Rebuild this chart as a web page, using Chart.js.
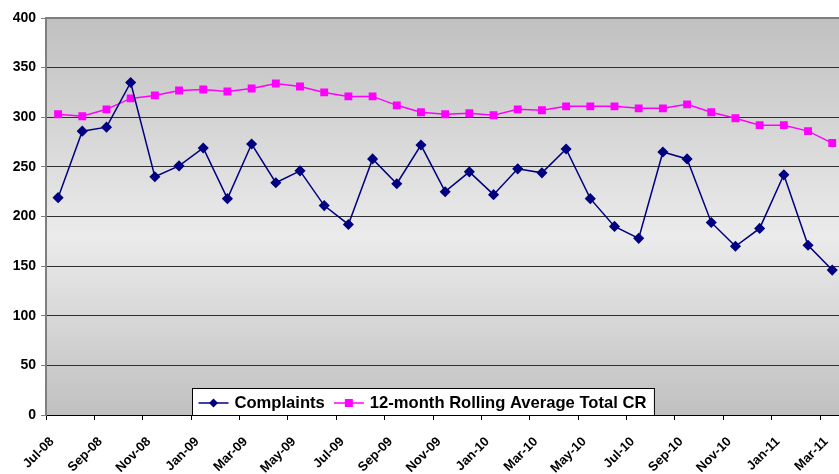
<!DOCTYPE html>
<html>
<head>
<meta charset="utf-8">
<script src="https://cdn.jsdelivr.net/npm/chart.js@4.4.1/dist/chart.umd.min.js"></script>
<style>
  html, body { margin: 0; padding: 0; background: #fff; }
  #wrap { width: 839px; height: 474px; position: relative; }
</style>
</head>
<body>
<div id="wrap"><canvas id="myChart"></canvas></div>
<script>
// months, one point each
const months = ['Jul-08', 'Aug-08', 'Sep-08', 'Oct-08', 'Nov-08', 'Dec-08',
    'Jan-09', 'Feb-09', 'Mar-09', 'Apr-09', 'May-09', 'Jun-09',
    'Jul-09', 'Aug-09', 'Sep-09', 'Oct-09', 'Nov-09', 'Dec-09',
    'Jan-10', 'Feb-10', 'Mar-10', 'Apr-10', 'May-10', 'Jun-10',
    'Jul-10', 'Aug-10', 'Sep-10', 'Oct-10', 'Nov-10', 'Dec-10',
    'Jan-11', 'Feb-11', 'Mar-11'];

const complaints = [219, 286, 290, 335, 240, 251, 269, 218, 273, 234, 246, 211,
    192, 258, 233, 272, 225, 245, 222, 248, 244, 268, 218, 190,
    178, 265, 258, 194, 170, 188, 242, 171, 146];

const rollingAvg = [303, 301, 308, 319, 322, 327, 328, 326, 329, 334, 331, 325,
    321, 321, 312, 305, 303, 304, 302, 308, 307, 311, 311, 311,
    309, 309, 313, 305, 299, 292, 292, 286, 274];

const seriesNames = ['Complaints', '12-month Rolling Average Total CR'];
const yMin = 0, yMax = 400, yStep = 50;

const FONT = "'Liberation Sans', Arial, sans-serif";

// points sit in the middle of each month slot
const toPoints = arr => arr.map((v, i) => ({ x: i + 0.5, y: v }));

// background gradient + top border + legend box inside the plot
const plotDecor = {
    id: 'plotDecor',
    beforeDraw(chart) {
        const { ctx, chartArea: a } = chart;
        const g = ctx.createLinearGradient(0, a.top, 0, a.bottom);
        g.addColorStop(0, '#c0c0c0');
        g.addColorStop(0.55, '#ebebeb');
        g.addColorStop(1, '#c0c0c0');
        ctx.save();
        ctx.fillStyle = g;
        ctx.fillRect(a.left, a.top, a.right - a.left, a.bottom - a.top);
        ctx.restore();
    },
    afterDraw(chart) {
        const { ctx, chartArea: a } = chart;
        ctx.save();
        // top border
        ctx.strokeStyle = '#7f7f7f';
        ctx.lineWidth = 2;
        ctx.beginPath();
        ctx.moveTo(a.left, a.top);
        ctx.lineTo(a.right, a.top);
        ctx.stroke();

        // legend
        ctx.font = 'bold 16.6px ' + FONT;
        const ds = chart.data.datasets;
        const sampleW = 30, gapAfterSample = 6, gapItems = 9, padL = 6, padR = 8;
        let total = padL + padR;
        ds.forEach((d, i) => {
            total += sampleW + gapAfterSample + ctx.measureText(d.label).width;
            if (i < ds.length - 1) total += gapItems;
        });
        const boxH = 27;
        const bx = 192.5;
        const by = a.bottom - boxH + 0.5;
        ctx.fillStyle = '#fff';
        ctx.fillRect(bx, by, total, boxH);
        ctx.strokeStyle = '#000';
        ctx.lineWidth = 1;
        ctx.strokeRect(bx, by, total, boxH);

        let x = bx + padL;
        const midY = by + boxH / 2 + 1;
        ds.forEach(d => {
            ctx.strokeStyle = d.borderColor;
            ctx.lineWidth = 1.5;
            ctx.beginPath();
            ctx.moveTo(x, midY);
            ctx.lineTo(x + sampleW, midY);
            ctx.stroke();
            ctx.fillStyle = d.pointBackgroundColor;
            const mx = x + sampleW / 2;
            ctx.beginPath();
            if (d.pointStyle === 'rectRot') {
                ctx.moveTo(mx, midY - 4.5);
                ctx.lineTo(mx + 4.5, midY);
                ctx.lineTo(mx, midY + 4.5);
                ctx.lineTo(mx - 4.5, midY);
                ctx.closePath();
            } else {
                ctx.rect(mx - 4, midY - 4, 8, 8);
            }
            ctx.fill();
            x += sampleW + gapAfterSample;
            ctx.fillStyle = '#000';
            ctx.textBaseline = 'middle';
            ctx.textAlign = 'left';
            ctx.fillText(d.label, x, midY);
            x += ctx.measureText(d.label).width + gapItems;
        });
        ctx.restore();
    }
};

const config = {
    type: 'line',
    data: {
        datasets: [
            {
                label: seriesNames[0],
                data: toPoints(complaints),
                borderColor: '#000080',
                backgroundColor: '#000080',
                pointBackgroundColor: '#000080',
                pointBorderColor: '#000080',
                pointStyle: 'rectRot',
                pointRadius: 4.5,
                borderWidth: 1.5,
                tension: 0
            },
            {
                label: seriesNames[1],
                data: toPoints(rollingAvg),
                borderColor: '#ff00ff',
                backgroundColor: '#ff00ff',
                pointBackgroundColor: '#ff00ff',
                pointBorderColor: '#ff00ff',
                pointStyle: 'rect',
                pointRadius: 4.5,
                borderWidth: 1.5,
                tension: 0
            }
        ]
    },
    options: {
        responsive: true,
        maintainAspectRatio: false,
        animation: false,
        layout: { autoPadding: false, padding: { top: 18, right: 0, left: 0, bottom: 0 } },
        plugins: {
            legend: { display: false },
            tooltip: { enabled: false }
        },
        scales: {
            x: {
                type: 'linear',
                min: 0,
                max: 32.78,
                afterFit(scale) {
                    scale.height = 59;
                    scale.paddingLeft = 0;
                    scale.paddingRight = 0;
                },
                ticks: {
                    stepSize: 2,
                    includeBounds: false,
                    autoSkip: false,
                    minRotation: 45,
                    maxRotation: 45,
                    padding: 14,
                    labelOffset: 6,
                    color: '#000',
                    font: { family: FONT, size: 13, weight: 'bold' },
                    callback: v => (Number.isInteger(v) && v % 2 === 0 && months[v]) ? months[v] : ''
                },
                grid: {
                    drawOnChartArea: false,
                    drawTicks: true,
                    tickLength: 5,
                    color: '#000'
                },
                border: { color: '#000', width: 1 }
            },
            y: {
                min: yMin,
                max: yMax,
                afterFit(scale) {
                    scale.width = 46;
                    scale.paddingTop = 0;
                    scale.paddingBottom = 0;
                },
                ticks: {
                    stepSize: yStep,
                    padding: 5,
                    color: '#000',
                    font: { family: FONT, size: 14, weight: 'bold' }
                },
                grid: {
                    color: '#303030',
                    lineWidth: 1,
                    tickLength: 5,
                    tickColor: '#7f7f7f'
                },
                border: { color: '#7f7f7f', width: 2 }
            }
        }
    },
    plugins: [plotDecor]
};

const myChart = new Chart(document.getElementById('myChart'), config);
</script>
</body>
</html>
